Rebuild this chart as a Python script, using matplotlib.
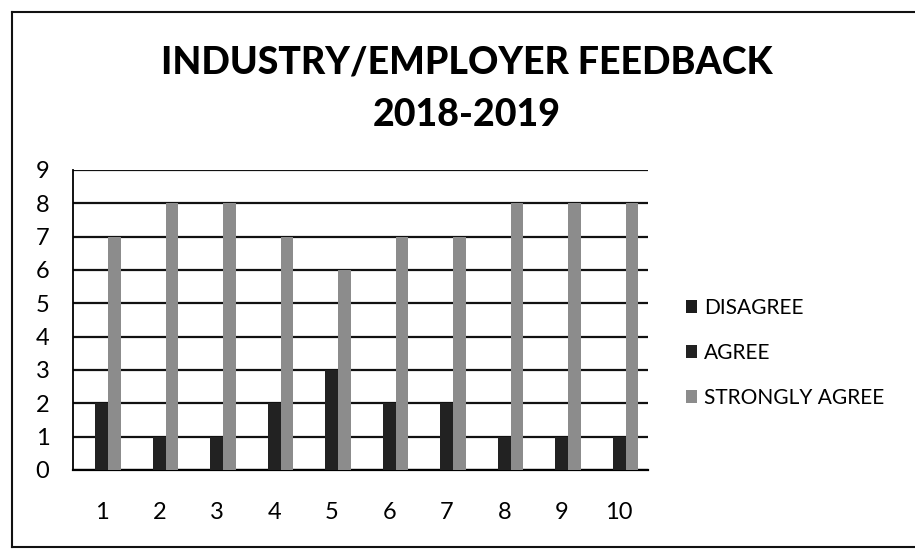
"""
Industry/employer feedback 2018-2019, clustered bar chart.
"""

import numpy as np
from matplotlib import pyplot as plt
from matplotlib import font_manager
from matplotlib import lines

categories = ['1', '2', '3', '4', '5', '6', '7', '8', '9', '10']
series_names = ['DISAGREE', 'AGREE', 'STRONGLY AGREE']
disagree = [0, 0, 0, 0, 0, 0, 0, 0, 0, 0]
agree = [2, 1, 1, 2, 3, 2, 2, 1, 1, 1]
strongly_agree = [7, 8, 8, 7, 6, 7, 7, 8, 8, 8]
y_ticks = [0, 1, 2, 3, 4, 5, 6, 7, 8, 9]

colors = ['#1c1c1c', '#222222', '#8c8c8c']


def pick_font():
    names = {f.name for f in font_manager.fontManager.ttflist}
    for name in ['Liberation Sans Narrow', 'Lato', 'DejaVu Sans']:
        if name in names:
            return name
    return 'DejaVu Sans'


def main():
    font = pick_font()
    plt.rcParams['font.family'] = [font, 'DejaVu Sans']

    fig = plt.figure(figsize=(9.15, 5.54), dpi=100)
    W, H = 915, 554
    ax = fig.add_axes([73 / W, 1 - 470 / H, (648 - 73) / W, (470 - 170) / H])

    x = np.arange(len(categories))
    width = 1 / 4.5
    data = [disagree, agree, strongly_agree]
    for i, (name, vals) in enumerate(zip(series_names, data)):
        ax.bar(x + (i - 1) * width, vals, width, color=colors[i], label=name,
               edgecolor='none', zorder=3)

    ax.set_xlim(-0.5, len(categories) - 0.5)
    ax.set_ylim(0, 9)
    ax.set_yticks(y_ticks)
    ax.set_yticklabels([str(t) for t in y_ticks], fontsize=17)
    ax.set_xticks(x)
    ax.set_xticklabels(categories, fontsize=17)
    ax.tick_params(axis='both', length=0)
    ax.tick_params(axis='x', pad=23)
    ax.tick_params(axis='y', pad=17)
    ax.yaxis.grid(True, color='#111111', linewidth=1.6, zorder=1)
    for side in ['top', 'right']:
        ax.spines[side].set_visible(False)
    ax.spines['left'].set_linewidth(1.3)
    ax.spines['bottom'].set_linewidth(1.6)

    fig.legend(loc='center left', bbox_to_anchor=(686 / W, 1 - 353 / H),
               frameon=False, fontsize=15, handlelength=0.55, handleheight=0.55,
               handletextpad=0.3, labelspacing=1.2, borderpad=0, borderaxespad=0)

    fig.text(467 / W, 1 - 62 / H, 'INDUSTRY/EMPLOYER FEEDBACK', ha='center', va='center',
             fontsize=27, fontweight='black')
    fig.text(467 / W, 1 - 115 / H, '2018-2019', ha='center', va='center',
             fontsize=27, fontweight='black')

    # scanned page border
    fig.add_artist(lines.Line2D([12 / W, 12 / W], [1 - 12 / H, 1 - 547 / H], color='#111111', linewidth=1.5))
    fig.add_artist(lines.Line2D([12 / W, 1], [1 - 12 / H, 1 - 12 / H], color='#111111', linewidth=1.5))
    fig.add_artist(lines.Line2D([12 / W, 1], [1 - 547 / H, 1 - 547 / H], color='#111111', linewidth=1.5))

    fig.savefig('out.png', dpi=100)


if __name__ == '__main__':
    main()
